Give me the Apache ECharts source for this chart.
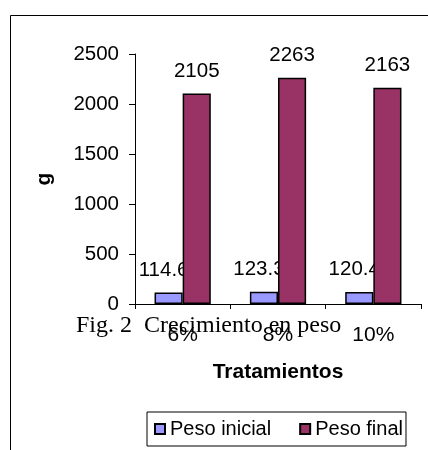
<!DOCTYPE html>
<html>
<head>
<meta charset="utf-8">
<script src="https://cdn.jsdelivr.net/npm/echarts@6/dist/echarts.min.js"></script>
<style>
  html, body { margin: 0; padding: 0; background: #fff; }
  #main { width: 428px; height: 450px; }
</style>
</head>
<body>
<div id="main"></div>
<script>
const categories = ['6%', '8%', '10%'];
const pesoInicial = [114.6, 123.3, 120.4];
const pesoFinal = [2105, 2263, 2163];
const yTicks = { min: 0, max: 2500, interval: 500 };

const font = 'Arial, "Liberation Sans", sans-serif';

const chart = echarts.init(document.getElementById('main'));
chart.setOption({
  animation: false,
  backgroundColor: '#fff',
  textStyle: { fontFamily: font, color: '#000' },
  grid: { left: 135, top: 54, right: 7, bottom: 146, containLabel: false },
  legend: {
    left: 147,
    top: 412,
    icon: 'rect',
    itemWidth: 10,
    itemHeight: 10,
    itemGap: 28,
    padding: [7, 3, 7, 7],
    borderColor: '#000',
    borderWidth: 1,
    textStyle: { fontSize: 20, color: '#000', fontFamily: font },
    data: ['Peso inicial', 'Peso final']
  },
  xAxis: {
    type: 'category',
    data: categories,
    name: 'Tratamientos',
    nameLocation: 'middle',
    nameGap: 58,
    nameTextStyle: { fontSize: 21, fontWeight: 'bold', color: '#000', fontFamily: font },
    axisLine: { lineStyle: { color: '#000', width: 1 } },
    axisTick: { show: true, length: 5, lineStyle: { color: '#000' } },
    axisLabel: { fontSize: 21, color: '#000', margin: 21, fontFamily: font }
  },
  yAxis: {
    type: 'value',
    min: yTicks.min,
    max: yTicks.max,
    interval: yTicks.interval,
    name: 'g',
    nameLocation: 'middle',
    nameGap: 80,
    nameTextStyle: { fontSize: 21, fontWeight: 'bold', color: '#000', fontFamily: font },
    axisLine: { show: true, lineStyle: { color: '#000', width: 1 } },
    axisTick: { show: true, length: 6, lineStyle: { color: '#000' } },
    axisLabel: { fontSize: 20.5, color: '#000', margin: 16, fontFamily: font, formatter: v => String(v) },
    splitLine: { show: false }
  },
  series: [
    {
      name: 'Peso inicial',
      type: 'bar',
      z: 1,
      data: pesoInicial,
      barGap: '0%',
      barCategoryGap: '41%',
      itemStyle: { color: '#9999FF', borderColor: '#000', borderWidth: 1.5 },
      label: { show: true, position: 'top', distance: 12, offset: [-5, 0], fontSize: 20.5, color: '#000', fontFamily: font }
    },
    {
      name: 'Peso final',
      type: 'bar',
      z: 3,
      data: pesoFinal,
      barGap: '0%',
      barCategoryGap: '41%',
      itemStyle: { color: '#993366', borderColor: '#000', borderWidth: 1.5 },
      label: { show: true, position: 'top', distance: 12, fontSize: 20.5, color: '#000', fontFamily: font }
    }
  ],
  graphic: [
    {
      type: 'rect',
      z: 0,
      silent: true,
      shape: { x: 10.5, y: 15.5, width: 440, height: 460 },
      style: { fill: null, stroke: '#000', lineWidth: 1 }
    },
    {
      type: 'text',
      z: 100,
      left: 76,
      top: 314,
      style: {
        text: 'Fig. 2  Crecimiento en peso',
        font: '24px "Liberation Serif", "Times New Roman", serif',
        fill: '#000'
      }
    }
  ]
});
</script>
</body>
</html>
